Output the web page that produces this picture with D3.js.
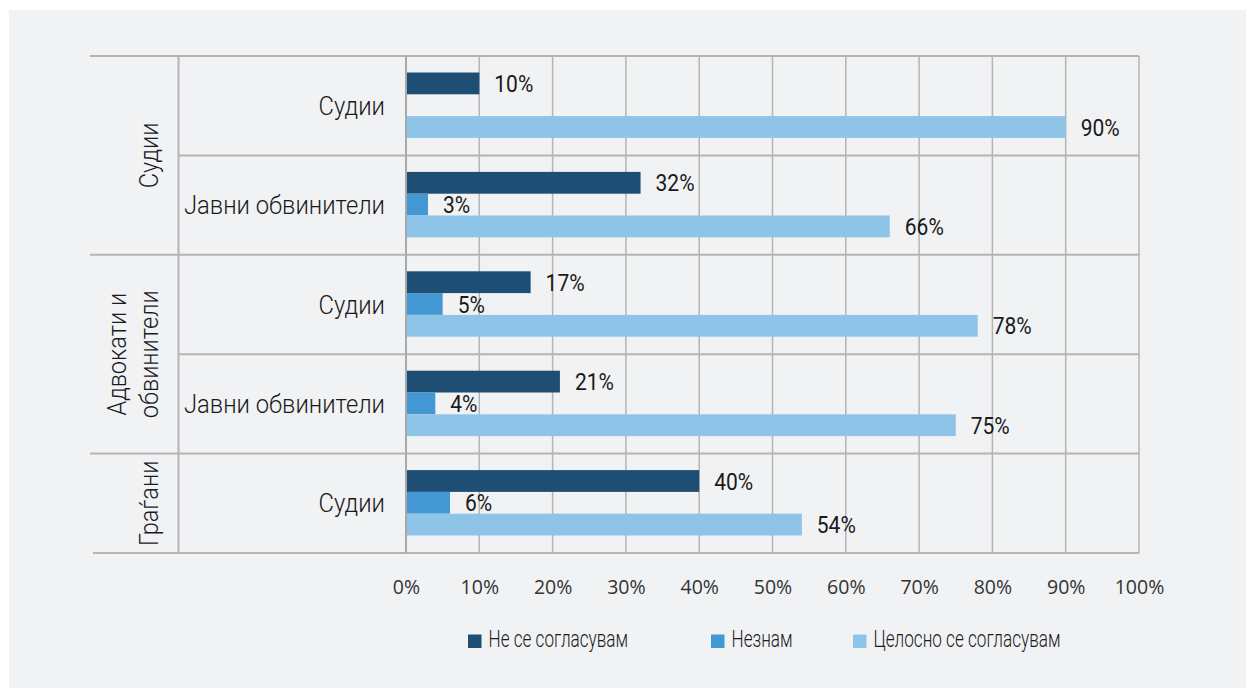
<!DOCTYPE html>
<html><head><meta charset="utf-8">
<script src="https://cdn.jsdelivr.net/npm/d3@7"></script>
<style>
html,body{margin:0;padding:0;background:#fff;}
svg{display:block;}
</style></head>
<body>
<script>
// ---- data ----
const groups = ["Судии", "Адвокати и обвинители", "Граѓани"];
const groupLines = [["Судии"], ["Адвокати и", "обвинители"], ["Граѓани"]];
const rowGroup = [0, 0, 1, 1, 2];
const rowLabels = ["Судии", "Јавни обвинители", "Судии", "Јавни обвинители", "Судии"];
const series = ["Не се согласувам", "Незнам", "Целосно се согласувам"];
const disagree = [10, 32, 17, 21, 40];
const dontKnow = [null, 3, 5, 4, 6];
const agree = [90, 66, 78, 75, 54];
const ticks = [0, 10, 20, 30, 40, 50, 60, 70, 80, 90, 100];
const colors = ["#1f4e74", "#4398d4", "#8ec4e8"];

const W = 1246, H = 688;
const lightFont = "Roboto, 'Noto Sans', sans-serif";
const svg = d3.select("body").append("svg").attr("width", W).attr("height", H);
svg.append("rect").attr("x", 9).attr("y", 10).attr("width", W - 9).attr("height", H - 10).attr("fill", "#f1f2f4");

// condensed-look helper: squeeze text horizontally so a sample string hits a target width
function squeezeFactor(sample, size, target, weight) {
  const t = svg.append("text").attr("font-family", lightFont).attr("font-weight", weight || 300).attr("font-size", size).text(sample);
  const w = t.node().getComputedTextLength();
  t.remove();
  return target / w;
}
function squeeze(sel, k) {
  sel.each(function () {
    const w = this.getComputedTextLength();
    d3.select(this).attr("textLength", w * k).attr("lengthAdjust", "spacingAndGlyphs");
  });
}

const x = d3.scaleLinear().domain([0, 100]).range([406, 1139]);
const rows = d3.range(rowLabels.length);
const y = d3.scaleBand().domain(rows).range([56, 553]);
const inner = d3.scaleBand().domain(series).range([16.5, y.bandwidth() - 17.5]);
const gridC = "#b4b4b4";

// vertical gridlines
svg.append("g").selectAll("line").data(ticks.slice(1)).join("line")
  .attr("x1", d => x(d)).attr("x2", d => x(d))
  .attr("y1", y(0)).attr("y2", y(4) + y.bandwidth())
  .attr("stroke", gridC).attr("stroke-width", 1.5);

// horizontal lines
const hl = svg.append("g");
hl.append("line").attr("x1", 90).attr("x2", x(100)).attr("y1", y(0)).attr("y2", y(0)).attr("stroke", gridC).attr("stroke-width", 2);
rows.slice(1).forEach(r => {
  const newGroup = rowGroup[r] !== rowGroup[r - 1];
  hl.append("line").attr("x1", newGroup ? 90 : 178).attr("x2", x(100))
    .attr("y1", y(r)).attr("y2", y(r)).attr("stroke", gridC).attr("stroke-width", 2);
});
hl.append("line").attr("x1", 93).attr("x2", x(100)).attr("y1", y(4) + y.bandwidth()).attr("y2", y(4) + y.bandwidth()).attr("stroke", gridC).attr("stroke-width", 2);
hl.append("line").attr("x1", 178.5).attr("x2", 178.5).attr("y1", y(0)).attr("y2", y(4) + y.bandwidth()).attr("stroke", gridC).attr("stroke-width", 2);

// bars
const data = [];
rows.forEach(r => {
  [disagree[r], dontKnow[r], agree[r]].forEach((v, i) => {
    if (v != null) data.push({ r, s: series[i], i, v });
  });
});
svg.append("g").selectAll("rect").data(data).join("rect")
  .attr("x", x(0)).attr("y", d => y(d.r) + inner(d.s))
  .attr("width", d => x(d.v) - x(0)).attr("height", inner.bandwidth())
  .attr("fill", d => colors[d.i]);

const kVal = squeezeFactor("32%", 23, 39, 400);
svg.append("g").selectAll("text").data(data).join("text")
  .attr("x", d => x(d.v) + 15).attr("y", d => y(d.r) + inner(d.s) + inner.bandwidth() / 2)
  .attr("dy", "0.37em").attr("font-family", lightFont).attr("font-weight", 400).attr("font-size", 23)
  .attr("fill", "#1a1a1a").text(d => d.v + "%")
  .call(squeeze, kVal);

// zero axis line
svg.append("line").attr("x1", x(0)).attr("x2", x(0)).attr("y1", y(0)).attr("y2", y(4) + y.bandwidth())
  .attr("stroke", "#a8a8a8").attr("stroke-width", 2);

// row labels
const kRow = squeezeFactor("Јавни обвинители", 25, 201);
svg.append("g").selectAll("text").data(rows).join("text")
  .attr("x", 385).attr("y", r => y(r) + y.bandwidth() / 2)
  .attr("dy", "0.36em").attr("text-anchor", "end")
  .attr("font-family", lightFont).attr("font-weight", 300).attr("font-size", 25).attr("fill", "#1a1a1a")
  .text(r => rowLabels[r])
  .call(squeeze, kRow);

// group labels
const kGrp = squeezeFactor("обвинители", 25, 128);
groups.forEach((g, gi) => {
  const rs = rows.filter(r => rowGroup[r] === gi);
  const cy = (y(rs[0]) + y(rs[rs.length - 1]) + y.bandwidth()) / 2;
  const lines = groupLines[gi];
  lines.forEach((ln, li) => {
    const base = 158 - (lines.length - 1 - li) * 32;
    svg.append("text").attr("transform", `translate(${base},${cy}) rotate(-90)`)
      .attr("text-anchor", "middle").attr("font-family", lightFont).attr("font-weight", 300)
      .attr("font-size", 25).attr("fill", "#1a1a1a").text(ln)
      .call(squeeze, kGrp);
  });
});

// x axis tick labels
const ax = svg.append("g").attr("transform", `translate(0,${y(4) + y.bandwidth()})`)
  .call(d3.axisBottom(x).tickValues(ticks).tickFormat(d => d + "%").tickSize(0).tickPadding(27));
ax.select(".domain").remove();
ax.selectAll("text").attr("font-family", "'Open Sans',sans-serif").attr("font-size", 19.5).attr("fill", "#333");

// legend
const legX = [468, 711, 853];
const kLeg = squeezeFactor("Целосно се согласувам", 23, 187);
const lg = svg.append("g").selectAll("g").data(series).join("g")
  .attr("transform", (d, i) => `translate(${legX[i]},641)`);
lg.append("rect").attr("x", 0).attr("y", -6.5).attr("width", 13.5).attr("height", 13.5).attr("fill", (d, i) => colors[i]);
lg.append("text").attr("x", 20.5).attr("y", 6).attr("font-family", lightFont).attr("font-weight", 300)
  .attr("font-size", 23).attr("fill", "#1a1a1a").text(d => d)
  .call(squeeze, kLeg);
</script>
</body></html>
